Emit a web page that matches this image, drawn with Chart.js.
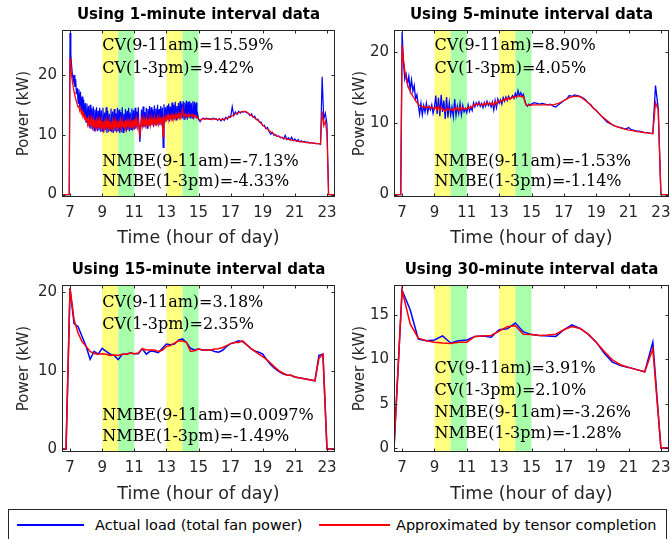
<!DOCTYPE html>
<html><head><meta charset="utf-8">
<script src="https://cdn.jsdelivr.net/npm/chart.js@4"></script>
<style>
html,body{margin:0;padding:0;width:671px;height:539px;overflow:hidden;background:#fff;}
canvas{position:absolute;}
#legend{position:absolute;left:8px;top:509px;width:659px;height:36px;border:1px solid #262626;box-sizing:border-box;background:#fff;font-family:"DejaVu Sans";font-size:14.5px;color:#000;}
#legend .ln{position:absolute;top:14px;height:2px;}
#legend .tx{position:absolute;top:6px;line-height:18px;white-space:nowrap;}
</style>
</head><body>
<canvas id="c1" width="360" height="255" style="left:0;top:0"></canvas>
<canvas id="c2" width="340" height="255" style="left:340px;top:0"></canvas>
<canvas id="c3" width="360" height="255" style="left:0;top:255px"></canvas>
<canvas id="c4" width="340" height="255" style="left:340px;top:255px"></canvas>
<div id="legend">
  <div class="ln" style="left:8px;width:67px;background-color:#0000ff"></div>
  <div class="tx" style="left:86px" id="lg1"></div>
  <div class="ln" style="left:310px;width:71px;background-color:#ff0000"></div>
  <div class="tx" style="left:387px" id="lg2"></div>
</div>
<script>
// ---------- labels ----------
const titles = ["Using 1-minute interval data","Using 5-minute interval data","Using 15-minute interval data","Using 30-minute interval data"];
const xTitle = "Time (hour of day)";
const yTitle = "Power (kW)";
const seriesNames = ["Actual load (total fan power)","Approximated by tensor completion"];
const xTicks = [7,9,11,13,15,17,19,21,23];
const yTicks1 = [0,10,20];
const yTicks2 = [0,10,20];
const yTicks3 = [0,10,20];
const yTicks4 = [0,5,10,15];
const bandsYellow = [[9,10],[13,14]];
const bandsGreen = [[10,11],[14,15]];
const notes1 = ["CV(9-11am)=15.59%","CV(1-3pm)=9.42%","NMBE(9-11am)=-7.13%","NMBE(1-3pm)=-4.33%"];
const notesY1 = [24.9,21.0,5.5,2.1];
const notes2 = ["CV(9-11am)=8.90%","CV(1-3pm)=4.05%","NMBE(9-11am)=-1.53%","NMBE(1-3pm)=-1.14%"];
const notesY2 = [20.9,17.7,4.6,1.8];
const notes3 = ["CV(9-11am)=3.18%","CV(1-3pm)=2.35%","NMBE(9-11am)=0.0097%","NMBE(1-3pm)=-1.49%"];
const notesY3 = [18.6,15.8,4.2,1.6];
const notes4 = ["CV(9-11am)=3.91%","CV(1-3pm)=2.10%","NMBE(9-11am)=-3.26%","NMBE(1-3pm)=-1.28%"];
const notesY4 = [8.9,6.5,3.95,1.6];

// ---------- 1-minute data (kW) ----------
// early part: 6.5 h .. 15.0 h every 0.05 h
const actual1Early = [0,0,0,0,0,0,0,0,0,0,
27.0,23.5,21.5,20.0,19.0,20.0,18.0,19.3,16.8,17.8,15.3,17.6,14.6,17.2,14.0,16.4,13.2,15.9,12.6,15.3,
12.1,15.2,11.5,14.8,11.2,15.0,11.0,14.4,10.9,14.7,10.7,14.2,10.8,14.6,10.6,14.0,10.7,14.5,10.5,14.1,
10.6,14.5,10.4,13.7,10.8,14.6,10.3,14.0,10.5,13.5,10.7,14.4,10.4,13.9,10.3,14.3,10.6,13.6,10.4,14.5,
10.6,14.2,10.3,13.8,10.5,14.6,10.4,13.5,10.7,14.3,10.5,14.0,10.8,14.5,10.6,13.7,10.9,14.4,10.7,14.1,
10.9,14.5,11.0,13.9,11.2,14.6,11.1,8.8,11.0,14.2,11.3,14.7,11.2,13.8,11.4,14.5,11.1,14.3,11.5,14.8,
11.4,14.6,11.6,14.2,11.3,14.9,11.7,14.4,11.5,15.0,11.8,14.3,11.6,14.8,11.9,14.5,7.9,15.1,12.0,14.6,
12.3,14.9,12.5,15.2,12.2,14.7,12.6,15.4,12.4,15.0,12.7,15.5,12.5,14.8,12.8,15.3,12.6,15.6,12.9,15.2,
12.7,15.6,12.6,15.4,12.8,15.7,12.5,15.5,12.9,15.6,12.7,15.3,12.8,15.6,12.6,15.5,12.9,15.4,12.7,13.4,
12.6];
const approx1Early = [0,0,0,0,0,0,0,0,0,0,
22.8,21.0,19.8,18.8,18.0,17.2,16.6,16.0,15.5,15.0,14.6,14.9,14.0,14.4,13.5,13.9,13.1,13.5,12.7,13.1,
12.4,12.9,11.8,12.8,11.6,12.6,11.5,12.7,11.4,12.5,11.3,12.6,11.2,12.4,11.3,12.5,11.1,12.3,11.2,12.4,
11.1,12.3,11.0,12.2,11.2,12.4,11.0,12.1,11.1,12.3,11.0,12.2,11.2,12.4,11.1,12.2,11.0,12.3,11.2,12.0,
11.1,12.2,11.2,12.4,11.1,12.3,11.3,12.1,11.2,12.5,11.1,12.3,11.3,12.2,11.4,12.4,11.2,12.5,11.3,12.2,
11.4,12.5,11.4,12.6,11.3,12.4,11.5,9.6,11.6,12.6,11.5,12.7,11.4,12.5,11.6,12.8,11.5,12.6,11.7,12.7,
11.6,12.8,11.7,12.6,11.8,12.9,11.7,12.7,11.9,12.8,11.8,12.9,12.0,12.7,11.9,12.9,9.6,12.8,12.2,13.0,
12.5,13.2,12.6,13.3,12.7,13.1,12.6,13.4,12.8,13.2,12.7,13.4,12.9,13.3,12.8,13.5,12.9,13.4,13.0,13.5,
14.3,13.2,13.4,13.1,13.5,13.2,13.3,13.0,13.4,13.1,13.3,13.2,13.4,13.0,13.2,13.1,13.3,12.9,13.0,12.8,
12.7];
// late part: 15.1 h .. 23.5 h every 0.1 h
const actual1Late = [12.2,12.6,12.8,12.6,12.8,12.6,12.7,12.5,12.8,12.6,
12.7,12.4,12.7,12.3,12.7,12.4,12.9,12.6,13.1,12.9,
14.7,13.2,13.8,13.4,13.9,13.6,13.9,13.8,13.9,13.7,
13.6,13.2,13.5,12.9,13.1,12.5,12.6,12.1,12.1,11.5,
11.6,11.0,11.2,10.5,10.1,10.4,9.9,10.0,9.7,9.8,
9.5,9.6,9.3,9.9,9.2,9.5,9.1,9.6,9.0,9.3,
8.9,9.2,8.8,9.0,8.8,8.9,8.7,8.8,8.6,8.7,
8.6,8.6,8.5,8.5,8.5,8.4,19.7,12.6,13.6,11.8,
0,0,0,0,0];
const approx1Late = [12.4,12.6,12.7,12.6,12.7,12.6,12.6,12.6,12.7,12.6,
12.6,12.5,12.6,12.5,12.6,12.6,12.7,12.8,12.9,13.0,
13.2,13.3,13.5,13.6,13.7,13.8,13.8,13.9,13.9,13.8,
13.6,13.4,13.2,13.0,12.8,12.6,12.4,12.1,11.9,11.6,
11.4,11.1,10.9,10.7,10.5,10.3,10.1,10.0,9.8,9.7,
9.6,9.5,9.4,9.35,9.3,9.2,9.15,9.1,9.05,9.0,
8.95,8.9,8.85,8.8,8.8,8.75,8.7,8.7,8.65,8.65,
8.6,8.6,8.55,8.5,8.5,8.45,13.9,11.5,12.3,10.0,
0,0,0,0,0];

// ---------- 5-minute data (kW) ----------
// early part: 6.5 h .. 15.0 h every 5 min
const actual5Early = [0,0,0,0,0,0,
22.8,18.6,16.2,16.9,15.5,16.6,14.7,16.1,14.5,15.3,13.4,14.0,
12.6,11.3,12.8,11.2,12.5,11.6,12.8,11.5,12.4,11.9,12.6,11.4,
12.2,13.9,11.3,13.6,11.0,14.0,11.6,13.2,10.6,13.7,10.8,12.9,
11.2,12.3,10.9,13.4,11.1,12.4,11.4,12.8,11.2,12.5,11.6,12.1,
11.5,12.6,11.7,12.3,11.8,12.9,12.3,12.9,12.5,13.0,12.4,12.8,
12.2,12.9,12.4,13.1,12.5,12.9,12.3,13.0,11.9,13.2,12.2,13.4,
12.8,13.3,12.7,13.6,13.1,13.7,13.2,13.8,13.4,13.6,13.9,13.5,
14.2,13.7,14.6,13.9,14.3,13.8,14.1,13.2,12.6,12.4,12.7,12.6,
12.7];
const approx5Early = [0,0,0,0,0,0,
21.0,19.0,17.4,16.3,15.5,14.9,14.5,14.1,13.8,13.5,13.2,12.9,
12.7,12.5,12.4,12.3,12.4,12.2,12.3,12.2,12.4,12.1,12.3,12.2,
12.0,12.3,11.9,12.4,11.8,12.2,12.0,11.9,11.7,12.1,11.8,12.0,
11.9,12.0,11.8,12.2,11.9,12.1,11.8,12.3,11.9,12.2,12.0,12.1,
12.0,12.3,12.1,12.4,12.2,12.6,12.5,12.7,12.6,12.8,12.6,12.7,
12.5,12.8,12.6,12.9,12.7,12.8,12.6,12.9,12.5,13.0,12.7,13.1,
13.0,13.2,13.1,13.3,13.2,13.5,13.3,13.6,13.4,13.5,13.7,13.6,
13.8,13.7,13.9,13.8,13.8,13.7,13.8,13.0,12.6,12.5,12.6,12.5,
12.6];
// late part: 15h10 .. 23h30 every 10 min
const actual5Late = [12.9,12.8,12.7,12.8,12.7,12.6,
12.7,12.4,12.3,12.6,12.9,13.2,
13.4,13.9,13.8,14.0,13.9,13.8,
13.6,13.3,12.9,12.6,12.1,11.8,
11.4,11.0,10.6,10.2,10.0,9.8,
9.6,9.5,9.4,9.3,9.2,9.4,
9.1,9.0,8.9,8.9,8.8,8.7,
8.7,8.6,8.6,15.3,12.1,0,
0,0,0];
const approx5Late = [12.6,12.6,12.6,12.6,12.6,12.6,
12.6,12.6,12.7,12.8,13.0,13.2,
13.4,13.6,13.7,13.8,13.8,13.7,
13.5,13.2,12.9,12.5,12.1,11.8,
11.4,11.0,10.7,10.4,10.1,9.8,
9.6,9.5,9.35,9.25,9.15,9.05,
9.0,8.95,8.85,8.8,8.75,8.7,
8.65,8.6,8.55,12.9,11.9,0,
0,0,0];

// ---------- 15-minute data (kW): 6.5 h .. 23.5 h every 15 min ----------
const actual15 = [0,0,
20.5,16.0,15.6,14.35, 13.1,11.45,12.45,12.1, 12.85,12.45,12.1,11.95, 11.4,12.1,12.1,12.25,
12.15,12.15,12.8,12.1, 12.5,12.45,12.3,12.85, 13.4,13.3,13.4,13.9, 14.05,13.6,12.85,12.65,
12.75,12.65,12.65,12.65, 12.45,12.35,12.6,13.1, 13.45,13.6,13.8,13.7, 13.3,12.85,12.5,12.35,
12.1,11.4,10.75,10.3, 9.9,9.6,9.45,9.4, 9.2,9.1,9.0,8.9, 8.8,8.7,11.95,12.1,
0,0,0];
const approx15 = [0,0,
20.5,16.5,14.8,13.7, 13.1,12.45,12.2,12.1, 12.15,12.1,11.95,12.0, 11.95,12.1,12.1,12.25,
12.15,12.25,12.8,12.65, 12.65,12.65,12.45,12.6, 13.1,13.2,13.5,13.8, 13.8,13.6,12.45,12.55,
12.75,12.65,12.65,12.65, 12.75,12.8,12.95,13.2, 13.45,13.6,13.6,13.8, 13.3,12.85,12.5,12.1,
11.8,11.4,10.95,10.45, 10.0,9.7,9.45,9.4, 9.2,9.1,9.0,8.9, 8.8,8.7,11.6,12.1,
0,0,0];

// ---------- 30-minute data (kW): 6.5 h .. 23.5 h every 30 min ----------
const actual30 = [0,17.8,15.6,12.3,12.1,12.2,12.65,11.85,12.1,12.2,12.6,12.65,12.5,13.35,13.45,14.1,13.1,
12.8,12.7,12.65,12.6,13.35,13.9,13.5,12.85,11.95,10.7,9.7,9.3,9.1,8.85,8.6,11.95,0,0];
const approx30 = [0,17.8,14.0,12.4,12.1,11.95,11.85,11.8,11.95,11.95,12.6,12.65,12.7,13.2,13.7,13.8,12.85,
12.8,12.7,12.75,12.85,13.35,13.7,13.5,12.85,11.95,10.9,9.95,9.4,9.1,8.85,8.6,11.2,0,0];

// ---------- helpers ----------
function seg(start, step, values){ return values.map((v,i)=>({x:+(start+i*step).toFixed(4), y:v})); }

const panels = [
 {id:'c1', left:0, top:0, w:360, h:255, area:{l:62,t:30,r:335,b:197}, yMin:-0.4, yMax:27.5, yTicks:yTicks1,
  yTitleX:24, xTitleY:238, lw:1.2, title:titles[0], notes:notes1, notesY:notesY1,
  actual:[...seg(6.5,0.05,actual1Early), ...seg(15.1,0.1,actual1Late)],
  approx:[...seg(6.5,0.05,approx1Early), ...seg(15.1,0.1,approx1Late)]},
 {id:'c2', left:340, top:0, w:340, h:255, area:{l:394,t:30,r:669,b:197}, yMin:-0.34, yMax:23.1, yTicks:yTicks2,
  yTitleX:360.5, xTitleY:238, lw:1.3, title:titles[1], notes:notes2, notesY:notesY2,
  actual:[...seg(6.5,1/12,actual5Early), ...seg(15+1/6,1/6,actual5Late)],
  approx:[...seg(6.5,1/12,approx5Early), ...seg(15+1/6,1/6,approx5Late)]},
 {id:'c3', left:0, top:255, w:360, h:255, area:{l:62,t:285,r:335,b:452}, yMin:-0.38, yMax:20.93, yTicks:yTicks3,
  yTitleX:24, xTitleY:494, lw:1.5, title:titles[2], notes:notes3, notesY:notesY3,
  actual:seg(6.5,0.25,actual15), approx:seg(6.5,0.25,approx15)},
 {id:'c4', left:340, top:255, w:340, h:255, area:{l:394,t:285,r:669,b:452}, yMin:-0.45, yMax:18.4, yTicks:yTicks4,
  yTitleX:360.5, xTitleY:494, lw:1.5, title:titles[3], notes:notes4, notesY:notesY4,
  actual:seg(6.5,0.5,actual30), approx:seg(6.5,0.5,approx30)}
];

const AX = '#262626';
const decor = {
  id:'decor',
  beforeDatasetsDraw(chart, args, o){
    const {ctx, chartArea:a, scales:{x,y}} = chart;
    ctx.save();
    const fill = (bands,col)=>bands.forEach(([s,e])=>{
      const x0=x.getPixelForValue(s), x1=x.getPixelForValue(e);
      ctx.fillStyle=col; ctx.fillRect(x0,a.top,x1-x0,a.bottom-a.top);
    });
    fill(bandsYellow,'#ffff80'); fill(bandsGreen,'#aaffaa');
    ctx.restore();
  },
  afterDatasetsDraw(chart, args, o){
    const {ctx, scales:{x,y}} = chart;
    ctx.save();
    ctx.font = '16px "DejaVu Serif"';
    ctx.fillStyle = '#000'; ctx.textAlign='left'; ctx.textBaseline='middle';
    o.notes.forEach((t,i)=>ctx.fillText(t, x.getPixelForValue(9), y.getPixelForValue(o.notesY[i])));
    ctx.restore();
  },
  afterDraw(chart, args, o){
    const {ctx, chartArea:a, scales:{x,y}} = chart;
    ctx.save();
    ctx.strokeStyle = AX; ctx.lineWidth = 1;
    const L=Math.round(a.left)+0.5, R=Math.round(a.right)-0.5, T=Math.round(a.top)+0.5, B=Math.round(a.bottom)-0.5;
    ctx.strokeRect(L,T,R-L,B-T);
    ctx.beginPath();
    xTicks.forEach(v=>{const p=Math.round(x.getPixelForValue(v))+0.5; ctx.moveTo(p,B); ctx.lineTo(p,B-3); ctx.moveTo(p,T); ctx.lineTo(p,T+3);});
    o.yTicks.forEach(v=>{const p=Math.round(y.getPixelForValue(v))+0.5; ctx.moveTo(L,p); ctx.lineTo(L+3,p); ctx.moveTo(R,p); ctx.lineTo(R-3,p);});
    ctx.stroke();
    ctx.font = 'bold 15px "DejaVu Sans"'; ctx.fillStyle='#000'; ctx.textAlign='center'; ctx.textBaseline='middle';
    ctx.fillText(o.title, (a.left+a.right)/2, a.top-15);
    ctx.restore();
  }
};

panels.forEach(p=>{
  const a=p.area;
  new Chart(document.getElementById(p.id), {
    type:'line',
    data:{datasets:[
      {label:seriesNames[0], data:p.actual, borderColor:'#0000ff', borderWidth:p.lw, pointRadius:0, tension:0, order:2},
      {label:seriesNames[1], data:p.approx, borderColor:'#ff0000', borderWidth:p.lw, pointRadius:0, tension:0, order:1}
    ]},
    options:{
      responsive:false, maintainAspectRatio:false, animation:false, events:[],
      layout:{padding:{left:0, top:a.t-p.top, right:p.left+p.w-a.r, bottom:0}},
      plugins:{legend:{display:false}, tooltip:{enabled:false}, title:{display:false},
        decor:{title:p.title, notes:p.notes, notesY:p.notesY, yTicks:p.yTicks}},
      scales:{
        x:{type:'linear', min:6.5, max:23.5,
           afterBuildTicks:s=>{s.ticks=xTicks.map(v=>({value:v}));},
           afterFit:s=>{s.height=p.top+p.h-a.b;},
           grid:{display:false, drawTicks:false}, border:{display:false},
           ticks:{autoSkip:false, maxRotation:0, padding:7.5, color:AX, font:{family:'DejaVu Sans', size:15}},
           title:{display:true, text:xTitle, color:AX, font:{family:'DejaVu Sans', size:17.5, lineHeight:1.2},
                  padding:{top:0, bottom:(p.top+p.h)-p.xTitleY-10.5}}},
        y:{type:'linear', min:p.yMin, max:p.yMax,
           afterBuildTicks:s=>{s.ticks=p.yTicks.map(v=>({value:v}));},
           afterFit:s=>{s.width=a.l-p.left;},
           grid:{display:false, drawTicks:false}, border:{display:false},
           ticks:{padding:5, color:AX, font:{family:'DejaVu Sans', size:15}},
           title:{display:true, text:yTitle, color:AX, font:{family:'DejaVu Sans', size:15, lineHeight:1.2},
                  padding:{top:p.yTitleX-p.left-9, bottom:0}}}
      }
    },
    plugins:[decor]
  });
});
document.getElementById('lg1').textContent = seriesNames[0];
document.getElementById('lg2').textContent = seriesNames[1];
</script>
</body></html>
